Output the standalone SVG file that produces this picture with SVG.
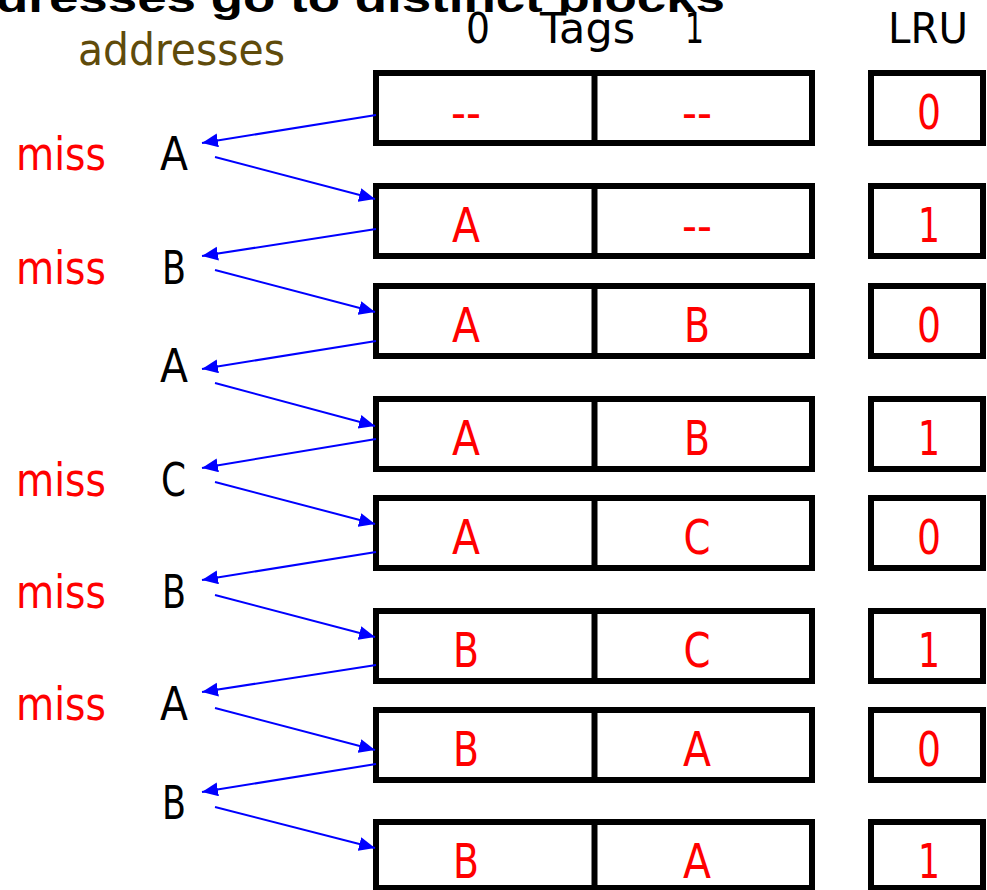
<svg xmlns="http://www.w3.org/2000/svg" width="987" height="890" viewBox="0 0 987 890">
<style>
.t{font-family:"DejaVu Sans","Liberation Sans",sans-serif;}
.title{font-family:"Liberation Sans",Arial,sans-serif;font-weight:bold;font-size:40px;fill:#000;}
.hdr{font-size:42px;fill:#000;}
.addr{font-size:44px;fill:#5F4B0B;}
.miss{font-size:47px;fill:#FF0000;}
.lab{font-size:47px;fill:#000;}
.cell{font-size:48px;fill:#FF0000;text-anchor:middle;}
.box{fill:#fff;stroke:#000;stroke-width:6;}
.div{stroke:#000;stroke-width:6;}
.conn line{stroke:#0000FF;stroke-width:2;marker-end:url(#ah);}
</style>
<defs>
<marker id="ah" markerUnits="userSpaceOnUse" markerWidth="17" markerHeight="15" refX="16" refY="7" orient="auto">
<path d="M0,0 L16,7 L0,14 z" fill="#0000FF"/>
</marker>
</defs>
<rect width="987" height="890" fill="#fff"/>
<text class="title" x="-4" y="12" textLength="729" lengthAdjust="spacingAndGlyphs">dresses go to distinct blocks</text>
<g id="header" class="t">
<text class="hdr" x="466" y="43" textLength="24" lengthAdjust="spacingAndGlyphs">0</text>
<text class="hdr" x="540" y="43" textLength="95" lengthAdjust="spacingAndGlyphs">Tags</text>
<text class="hdr" x="685" y="43" textLength="19" lengthAdjust="spacingAndGlyphs">1</text>
<text class="hdr" x="888" y="43" textLength="80" lengthAdjust="spacingAndGlyphs">LRU</text>
<text class="addr" x="78" y="65" textLength="207" lengthAdjust="spacingAndGlyphs">addresses</text>
</g>
<g id="labels" class="t">
<text class="miss" x="16" y="170" textLength="90" lengthAdjust="spacingAndGlyphs">miss</text>
<text class="lab" x="160" y="170" textLength="28" lengthAdjust="spacingAndGlyphs">A</text>
<text class="miss" x="16" y="284" textLength="90" lengthAdjust="spacingAndGlyphs">miss</text>
<text class="lab" x="162" y="284" textLength="24" lengthAdjust="spacingAndGlyphs">B</text>
<text class="lab" x="160" y="382" textLength="28" lengthAdjust="spacingAndGlyphs">A</text>
<text class="miss" x="16" y="496" textLength="90" lengthAdjust="spacingAndGlyphs">miss</text>
<text class="lab" x="161" y="496" textLength="25" lengthAdjust="spacingAndGlyphs">C</text>
<text class="miss" x="16" y="608" textLength="90" lengthAdjust="spacingAndGlyphs">miss</text>
<text class="lab" x="162" y="608" textLength="24" lengthAdjust="spacingAndGlyphs">B</text>
<text class="miss" x="16" y="720" textLength="90" lengthAdjust="spacingAndGlyphs">miss</text>
<text class="lab" x="160" y="720" textLength="28" lengthAdjust="spacingAndGlyphs">A</text>
<text class="lab" x="162" y="819" textLength="24" lengthAdjust="spacingAndGlyphs">B</text>
</g>
<g id="row1" class="t">
<rect class="box" x="376" y="73" width="436" height="70"/><line class="div" x1="594.5" y1="70" x2="594.5" y2="146"/>
<rect class="box" x="871" y="73" width="112" height="70"/>
<text class="cell" x="466" y="129" textLength="30" lengthAdjust="spacingAndGlyphs">--</text>
<text class="cell" x="697" y="129" textLength="30" lengthAdjust="spacingAndGlyphs">--</text>
<text class="cell" x="929" y="129" textLength="24" lengthAdjust="spacingAndGlyphs">0</text>
</g>
<g id="row2" class="t">
<rect class="box" x="376" y="186" width="436" height="70"/><line class="div" x1="594.5" y1="183" x2="594.5" y2="259"/>
<rect class="box" x="871" y="186" width="112" height="70"/>
<text class="cell" x="466" y="242" textLength="28" lengthAdjust="spacingAndGlyphs">A</text>
<text class="cell" x="697" y="242" textLength="30" lengthAdjust="spacingAndGlyphs">--</text>
<text class="cell" x="929" y="242" textLength="22" lengthAdjust="spacingAndGlyphs">1</text>
</g>
<g id="row3" class="t">
<rect class="box" x="376" y="286" width="436" height="70"/><line class="div" x1="594.5" y1="283" x2="594.5" y2="359"/>
<rect class="box" x="871" y="286" width="112" height="70"/>
<text class="cell" x="466" y="342" textLength="28" lengthAdjust="spacingAndGlyphs">A</text>
<text class="cell" x="697" y="342" textLength="26" lengthAdjust="spacingAndGlyphs">B</text>
<text class="cell" x="929" y="342" textLength="24" lengthAdjust="spacingAndGlyphs">0</text>
</g>
<g id="row4" class="t">
<rect class="box" x="376" y="399" width="436" height="70"/><line class="div" x1="594.5" y1="396" x2="594.5" y2="472"/>
<rect class="box" x="871" y="399" width="112" height="70"/>
<text class="cell" x="466" y="455" textLength="28" lengthAdjust="spacingAndGlyphs">A</text>
<text class="cell" x="697" y="455" textLength="26" lengthAdjust="spacingAndGlyphs">B</text>
<text class="cell" x="929" y="455" textLength="22" lengthAdjust="spacingAndGlyphs">1</text>
</g>
<g id="row5" class="t">
<rect class="box" x="376" y="498" width="436" height="70"/><line class="div" x1="594.5" y1="495" x2="594.5" y2="571"/>
<rect class="box" x="871" y="498" width="112" height="70"/>
<text class="cell" x="466" y="554" textLength="28" lengthAdjust="spacingAndGlyphs">A</text>
<text class="cell" x="697" y="554" textLength="27" lengthAdjust="spacingAndGlyphs">C</text>
<text class="cell" x="929" y="554" textLength="24" lengthAdjust="spacingAndGlyphs">0</text>
</g>
<g id="row6" class="t">
<rect class="box" x="376" y="611" width="436" height="70"/><line class="div" x1="594.5" y1="608" x2="594.5" y2="684"/>
<rect class="box" x="871" y="611" width="112" height="70"/>
<text class="cell" x="466" y="667" textLength="26" lengthAdjust="spacingAndGlyphs">B</text>
<text class="cell" x="697" y="667" textLength="27" lengthAdjust="spacingAndGlyphs">C</text>
<text class="cell" x="929" y="667" textLength="22" lengthAdjust="spacingAndGlyphs">1</text>
</g>
<g id="row7" class="t">
<rect class="box" x="376" y="710" width="436" height="70"/><line class="div" x1="594.5" y1="707" x2="594.5" y2="783"/>
<rect class="box" x="871" y="710" width="112" height="70"/>
<text class="cell" x="466" y="766" textLength="26" lengthAdjust="spacingAndGlyphs">B</text>
<text class="cell" x="697" y="766" textLength="28" lengthAdjust="spacingAndGlyphs">A</text>
<text class="cell" x="929" y="766" textLength="24" lengthAdjust="spacingAndGlyphs">0</text>
</g>
<g id="row8" class="t">
<rect class="box" x="376" y="822" width="436" height="66"/><line class="div" x1="594.5" y1="819" x2="594.5" y2="891"/>
<rect class="box" x="871" y="822" width="112" height="66"/>
<text class="cell" x="466" y="878" textLength="26" lengthAdjust="spacingAndGlyphs">B</text>
<text class="cell" x="697" y="878" textLength="28" lengthAdjust="spacingAndGlyphs">A</text>
<text class="cell" x="929" y="878" textLength="22" lengthAdjust="spacingAndGlyphs">1</text>
</g>
<g id="connectors" class="conn">
<line x1="376" y1="115" x2="202" y2="143"/>
<line x1="215" y1="157" x2="375" y2="199"/>
<line x1="376" y1="229" x2="202" y2="256"/>
<line x1="215" y1="270" x2="375" y2="312"/>
<line x1="376" y1="341" x2="202" y2="369"/>
<line x1="215" y1="383" x2="375" y2="426"/>
<line x1="376" y1="439" x2="202" y2="468"/>
<line x1="215" y1="482" x2="375" y2="524"/>
<line x1="376" y1="552" x2="202" y2="580"/>
<line x1="215" y1="595" x2="375" y2="637"/>
<line x1="376" y1="665" x2="202" y2="692"/>
<line x1="215" y1="708" x2="375" y2="750"/>
<line x1="376" y1="764" x2="202" y2="792"/>
<line x1="215" y1="807" x2="375" y2="848"/>
</g>
</svg>
